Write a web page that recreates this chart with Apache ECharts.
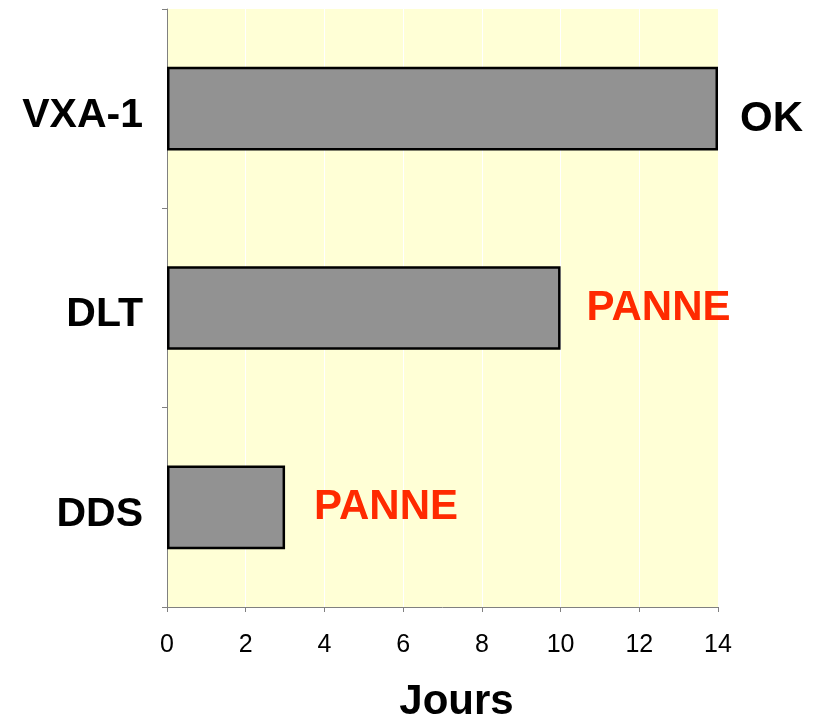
<!DOCTYPE html>
<html>
<head>
<meta charset="utf-8">
<script src="https://cdn.jsdelivr.net/npm/echarts@6/dist/echarts.min.js"></script>
<style>
  html, body { margin: 0; padding: 0; background: #fff; }
  #chart { width: 814px; height: 720px; }
</style>
</head>
<body>
<div id="chart"></div>
<script>
// bottom to top, as the category axis draws them
const drives = ['DDS', 'DLT', 'VXA-1']
const days = [3, 10, 14]
const status = ['PANNE', 'PANNE', 'OK']
const xTicks = [0, 2, 4, 6, 8, 10, 12, 14]

const statusColor = { OK: '#000000', PANNE: '#FF2A00' }
const labelGap = [29, 26, 22]
const font = '"Liberation Sans", Arial, sans-serif'

const chart = echarts.init(document.getElementById('chart'))

const option = {
  backgroundColor: '#ffffff',
  animation: false,
  grid: {
    left: 167,
    right: 96,
    top: 9,
    bottom: 113,
    outerBoundsMode: 'none',
    containLabel: false,
    show: true,
    backgroundColor: '#FFFFD6',
    borderWidth: 0
  },
  xAxis: {
    type: 'value',
    min: xTicks[0],
    max: xTicks[xTicks.length - 1],
    interval: 2,
    name: 'Jours',
    nameLocation: 'middle',
    nameGap: 74,
    nameTextStyle: { fontFamily: font, fontSize: 42, fontWeight: 'bold', color: '#000', padding: [0, 0, 0, 28] },
    axisLine: { show: true, lineStyle: { color: '#808080', width: 1 } },
    axisTick: { show: true, length: 5, lineStyle: { color: '#808080' } },
    axisLabel: { fontFamily: font, fontSize: 25, color: '#000', margin: 26 },
    splitLine: { show: true, lineStyle: { color: '#ffffff', width: 1 } }
  },
  yAxis: {
    type: 'category',
    data: drives,
    axisLine: { show: true, lineStyle: { color: '#808080', width: 1 } },
    axisTick: { show: true, length: 5, lineStyle: { color: '#808080' } },
    axisLabel: {
      margin: 24,
      formatter: v => '{d|' + v + '}',
      rich: {
        d: { fontFamily: font, fontSize: 41, fontWeight: 'bold', color: '#000', padding: [14, 0, 0, 0] }
      }
    },
    splitLine: { show: false }
  },
  series: [
    {
      type: 'bar',
      data: days.map((v, i) => ({
        value: v,
        label: {
          formatter: status[i],
          color: statusColor[status[i]],
          distance: labelGap[i],
          offset: status[i] === 'OK' ? [0, 11] : [0, 0]
        }
      })),
      barWidth: '42%',
      itemStyle: { color: '#929292', borderColor: '#000', borderWidth: 2.5 },
      label: {
        show: true,
        position: 'right',
        fontFamily: font,
        fontSize: 42,
        fontWeight: 'bold'
      }
    }
  ]
}

chart.setOption(option)
</script>
</body>
</html>
